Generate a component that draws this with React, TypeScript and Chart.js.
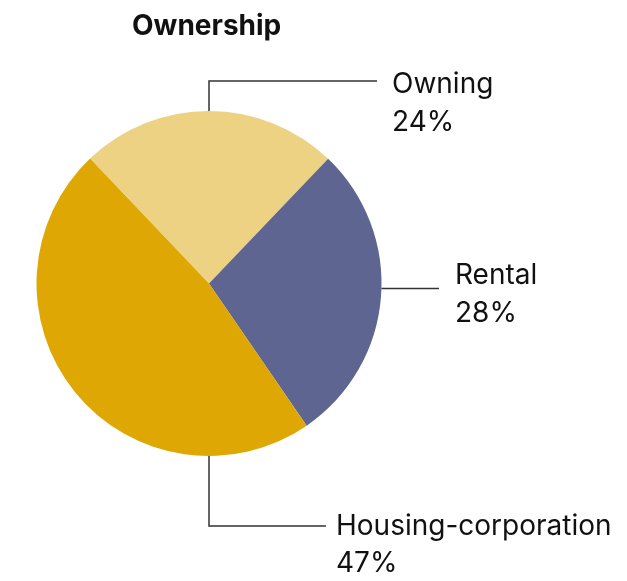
import React, { useEffect, useRef } from "react";
import { Chart, registerables } from "chart.js";

Chart.register(...registerables);

const categories = ["Owning", "Rental", "Housing-corporation"];
const shares = [24, 28, 47];
const shareLabels = ["24%", "28%", "47%"];
const colors = ["#EDD283", "#5E6590", "#DEA703"];
const titleText = "Ownership";

const FONT = "Inter, 'Liberation Sans', Arial, sans-serif";

const labelPlugin = {
  id: "leaderLabels",
  afterDraw(chart: any) {
    const ctx = chart.ctx;
    const meta = chart.getDatasetMeta(0);
    const arc = meta.data[0];
    if (!arc) return;
    const cx = arc.x;
    const cy = arc.y;
    const r = arc.outerRadius;
    ctx.save();
    // title
    ctx.fillStyle = "#111";
    ctx.font = `bold 28px ${FONT}`;
    ctx.textBaseline = "alphabetic";
    ctx.textAlign = "left";
    ctx.fillText(titleText, cx - 77, 35);

    ctx.strokeStyle = "#333";
    ctx.lineWidth = 1.5;
    ctx.font = `28px ${FONT}`;

    // Owning: up from top of pie, then right
    const oY = cy - r - 30;
    ctx.beginPath();
    ctx.moveTo(cx, cy - r);
    ctx.lineTo(cx, oY);
    ctx.lineTo(cx + 168, oY);
    ctx.stroke();
    ctx.fillText(categories[0], cx + 183, oY + 12);
    ctx.fillText(shareLabels[0], cx + 183, oY + 50);

    // Rental: right from right edge
    const rY = cy + 5;
    ctx.beginPath();
    ctx.moveTo(cx + r, rY);
    ctx.lineTo(cx + 230, rY);
    ctx.stroke();
    ctx.fillText(categories[1], cx + 246, rY - 5);
    ctx.fillText(shareLabels[1], cx + 246, rY + 33);

    // Housing: down from bottom, then right
    const hY = cy + r + 70;
    ctx.beginPath();
    ctx.moveTo(cx, cy + r);
    ctx.lineTo(cx, hY);
    ctx.lineTo(cx + 117, hY);
    ctx.stroke();
    ctx.fillText(categories[2], cx + 127, hY + 9);
    ctx.fillText(shareLabels[2], cx + 127, hY + 46);
    ctx.restore();
  },
};

export default function App() {
  const ref = useRef<HTMLCanvasElement | null>(null);
  useEffect(() => {
    document.body.style.margin = "0";
    const canvas = ref.current!;
    const chart = new Chart(canvas, {
      type: "pie",
      data: {
        labels: categories,
        datasets: [
          {
            data: shares,
            backgroundColor: colors,
            borderWidth: 0,
          },
        ],
      },
      options: {
        responsive: false,
        animation: false,
        devicePixelRatio: 1,
        rotation: -43.6,
        layout: { padding: { left: 36.5, right: 245.5, top: 111, bottom: 125 } },
        plugins: {
          legend: { display: false },
          tooltip: { enabled: false },
          title: { display: false },
        },
      },
      plugins: [labelPlugin],
    });
    return () => chart.destroy();
  }, []);
  return (
    <canvas ref={ref} width={627} height={581} style={{ width: 627, height: 581, display: "block" }} />
  );
}
